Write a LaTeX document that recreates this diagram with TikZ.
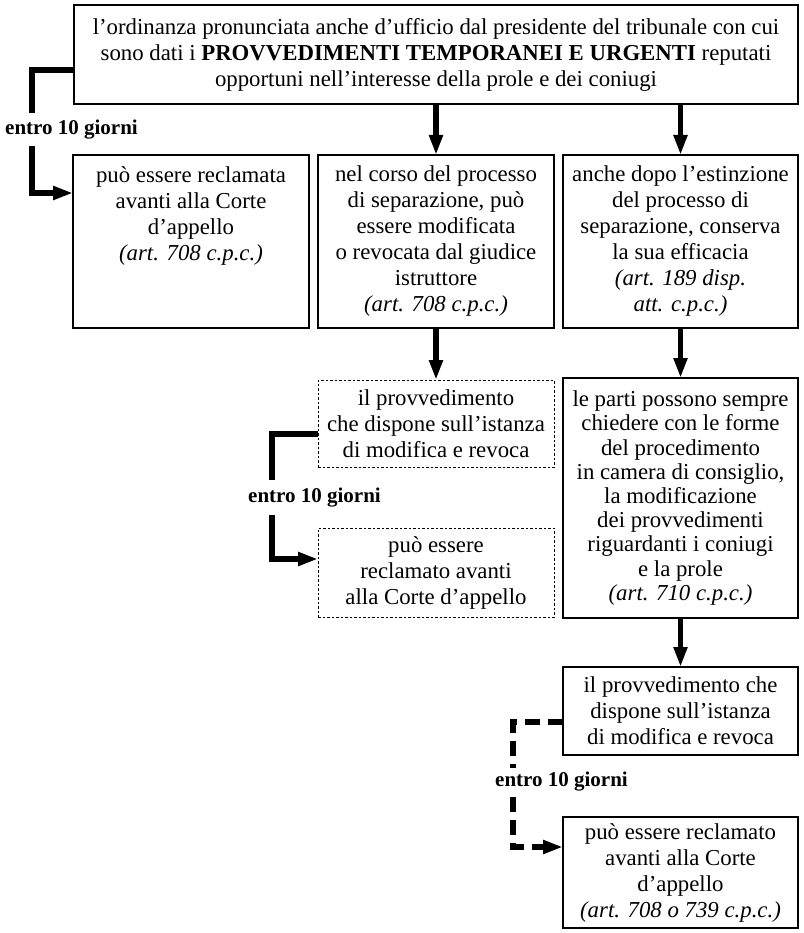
\documentclass[tikz,border=0pt]{standalone}
\usepackage{fontspec}
\setmainfont{Liberation Serif}
\usetikzlibrary{arrows.meta}
\begin{document}
\begin{tikzpicture}[x=1pt,y=-1pt,
  box/.style={draw, line width=1.3pt, align=center, inner sep=0pt, outer sep=0pt, font=\fontsize{22.8}{26}\selectfont},
  dbox/.style={box, line width=1pt, dash pattern=on 2.5pt off 2pt},
  txt/.style={align=center, inner sep=0pt, font=\fontsize{22.8}{26}\selectfont},
  conn/.style={line width=5.5pt, line join=miter},
  tip/.style={-{Triangle[length=20pt,width=13pt]}},
  dconn/.style={conn, dash pattern=on 15pt off 8pt},
  lbl/.style={font=\fontsize{21}{25}\selectfont\bfseries, inner sep=0pt, anchor=west}]
\useasboundingbox (0,0) rectangle (803,933);

\node[box, minimum width=724pt, minimum height=99pt] (t) at (436,54.5)
  {l'ordinanza pronunciata anche d'ufficio dal presidente del tribunale con cui\\
   sono dati i \textbf{PROVVEDIMENTI TEMPORANEI E URGENTI} reputati\\
   opportuni nell'interesse della prole e dei coniugi};

\node[box, minimum width=236pt, minimum height=173pt] (a) at (191,241.5) {};
\node[txt, anchor=north] (atext) at (191,166)
  {può essere reclamata\\ avanti alla Corte\\ d'appello\\ \textit{(art. 708 c.p.c.)}};

\node[box, minimum width=236pt, minimum height=173pt] (b) at (436,241.5)
  {nel corso del processo\\ di separazione, può\\ essere modificata\\ o revocata dal giudice\\ istruttore\\ \textit{(art. 708 c.p.c.)}};

\node[box, minimum width=235pt, minimum height=173pt] (c) at (680.5,241.5)
  {anche dopo l'estinzione\\ del processo di\\ separazione, conserva\\ la sua efficacia\\ \textit{(art. 189 disp.}\\ \textit{att. c.p.c.)}};

\node[dbox, minimum width=236pt, minimum height=87pt] (d) at (436,423.5)
  {il provvedimento\\ che dispone sull'istanza\\ di modifica e revoca};

\node[dbox, minimum width=236pt, minimum height=89pt] (e) at (436,572.5)
  {può essere\\ reclamato avanti\\ alla Corte d'appello};

\node[box, minimum width=235pt, minimum height=240pt, font=\fontsize{22.8}{24.2}\selectfont] (f) at (680.5,498)
  {le parti possono sempre\\ chiedere con le forme\\ del procedimento\\ in camera di consiglio,\\ la modificazione\\ dei provvedimenti\\ riguardanti i coniugi\\ e la prole\\ \textit{(art. 710 c.p.c.)}};

\node[box, minimum width=235pt, minimum height=88pt] (g) at (680.5,711)
  {il provvedimento che\\ dispone sull'istanza\\ di modifica e revoca};

\node[box, minimum width=235pt, minimum height=111pt] (h) at (680.5,872.5)
  {può essere reclamato\\ avanti alla Corte\\ d'appello\\ \textit{(art. 708 o 739 c.p.c.)}};

% vertical arrows
\draw[conn,tip] (t.south -| b.north) -- (b.north);
\draw[conn,tip] (t.south -| c.north) -- (c.north);
\draw[conn,tip] (b.south) -- (d.north);
\draw[conn,tip] (c.south) -- (f.north);
\draw[conn,tip] (f.south) -- (g.north);

% connector 1
\coordinate (k1) at ([yshift=-15.5pt]t.west);
\coordinate (k1e) at (32,113);
\coordinate (k2s) at (32,146);
\coordinate (k2e) at ([yshift=48.5pt]a.west);
\draw[conn] (k1) -| (k1e);
\draw[conn,tip] (k2s) |- (k2e);
\node[lbl] (l1) at (5,130) {entro 10 giorni};

% connector 2
\coordinate (m1) at ([yshift=-10.5pt]d.west);
\coordinate (m1e) at (272,480);
\coordinate (m2s) at (272,515);
\coordinate (m2e) at ([yshift=13.5pt]e.west);
\draw[conn] (m1) -| (m1e);
\draw[conn,tip] (m2s) |- (m2e);
\node[lbl] (l2) at (248,498) {entro 10 giorni};

% connector 3 (dashed)
\coordinate (n1) at ([yshift=-11pt]g.west);
\coordinate (n1e) at (513,768);
\coordinate (n2s) at (513,797);
\coordinate (n2e) at ([yshift=25.5pt]h.west);
\draw[dconn] (n1) -| (n1e);
\draw[dconn,tip] (n2s) |- (n2e);
\node[lbl] (l3) at (495,782) {entro 10 giorni};
\end{tikzpicture}
\end{document}
